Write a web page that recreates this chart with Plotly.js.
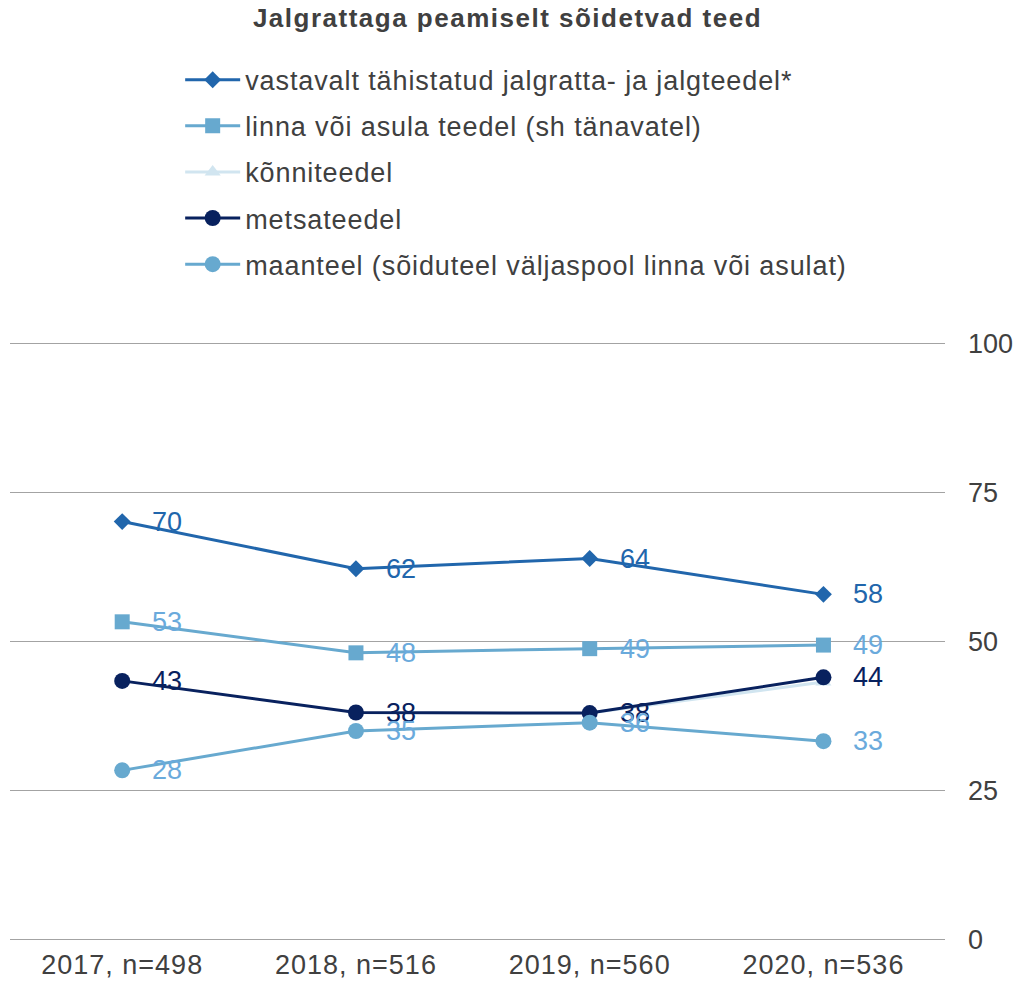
<!DOCTYPE html>
<html>
<head>
<meta charset="utf-8">
<script src="https://cdn.plot.ly/plotly-3.0.1.min.js"></script>
<style>
html,body{margin:0;padding:0;background:#fff;}
#chart{width:1015px;height:981px;}
.legendtext{letter-spacing:0.9px;}
.xtick text{letter-spacing:1px;}
.gtitle{letter-spacing:1.5px;}
</style>
</head>
<body>
<div id="chart"></div>
<script>
const categories = ["2017, n=498", "2018, n=516", "2019, n=560", "2020, n=536"];
const seriesNames = [
  "vastavalt tähistatud jalgratta- ja jalgteedel*",
  "linna või asula teedel (sh tänavatel)",
  "kõnniteedel",
  "metsateedel",
  "maanteel (sõiduteel väljaspool linna või asulat)"
];
const vastavalt = [70.1, 62.2, 63.9, 57.9];
const linna = [53.3, 48.1, 48.8, 49.4];
const konniteedel = [null, null, 38.0, 43.2];
const metsateedel = [43.4, 38.1, 38.0, 44.0];
const maanteel = [28.4, 35.0, 36.4, 33.3];
const yTicks = [0, 25, 50, 75, 100];

const colors = ["#2166ac", "#67a9cf", "#d1e5f0", "#08215e", "#67a9cf"];
const labelColors = ["#2166ac", "#6aaadc", null, "#08215e", "#6aaadc"];
const symbols = ["diamond", "square", "triangle-up", "circle", "circle"];
const sizes = [13, 15, 14, 16, 16];
const allValues = [vastavalt, linna, konniteedel, metsateedel, maanteel];
const showLabels = [true, true, false, true, true];

const FONT = "Liberation Sans, Arial, Helvetica, sans-serif";

const traces = allValues.map((vals, i) => ({
  type: "scatter",
  mode: "lines+markers",
  x: [0, 1, 2, 3],
  y: vals,
  name: seriesNames[i],
  legendgroup: "g" + i,
  line: {color: colors[i], width: 3},
  marker: {color: colors[i], symbol: symbols[i], size: sizes[i]},
  connectgaps: false,
  hoverinfo: "skip"
}));

const annotations = [];
allValues.forEach((vals, i) => {
  if (!showLabels[i]) return;
  vals.forEach((v, j) => {
    if (v === null) return;
    annotations.push({
      x: j, y: v, xref: "x", yref: "y",
      text: String(Math.round(v)),
      showarrow: false, xanchor: "left", yanchor: "middle",
      xshift: 28,
      font: {family: FONT, size: 27, color: labelColors[i]}
    });
  });
});

const layout = {
  width: 1015, height: 981,
  margin: {l: 10, r: 70, t: 342, b: 40},
  paper_bgcolor: "#fff", plot_bgcolor: "#fff",
  font: {family: FONT, color: "#404040", size: 27},
  title: {
    text: "<b>Jalgrattaga peamiselt sõidetvad teed</b>",
    x: 0.5, xref: "container", xanchor: "center",
    y: 0.982, yref: "container", yanchor: "middle",
    font: {family: FONT, size: 26, color: "#404040"}
  },
  showlegend: true,
  legend: {
    x: 0.182, xanchor: "left", xref: "paper",
    y: 1.478, yanchor: "top", yref: "paper",
    orientation: "v",
    traceorder: "grouped",
    tracegroupgap: 8,
    itemwidth: 55,
    font: {family: FONT, size: 27, color: "#404040"},
    bgcolor: "rgba(0,0,0,0)"
  },
  xaxis: {
    type: "linear",
    range: [-0.48, 3.52],
    tickmode: "array",
    tickvals: [0, 1, 2, 3],
    ticktext: categories,
    showgrid: false, zeroline: false, showline: false,
    ticks: "", ticklabelstandoff: 5,
    tickfont: {family: FONT, size: 27, color: "#404040"},
    fixedrange: true
  },
  yaxis: {
    side: "right",
    range: [-0.2, 100.2],
    tickmode: "array",
    tickvals: yTicks,
    ticktext: yTicks.map(String),
    showgrid: true, gridcolor: "#a3a3a3", gridwidth: 1,
    zeroline: false, showline: false,
    ticks: "", ticklabelstandoff: 22,
    tickfont: {family: FONT, size: 27, color: "#404040"},
    fixedrange: true
  },
  annotations: annotations
};

Plotly.newPlot("chart", traces, layout, {displayModeBar: false, staticPlot: true});
</script>
</body>
</html>
